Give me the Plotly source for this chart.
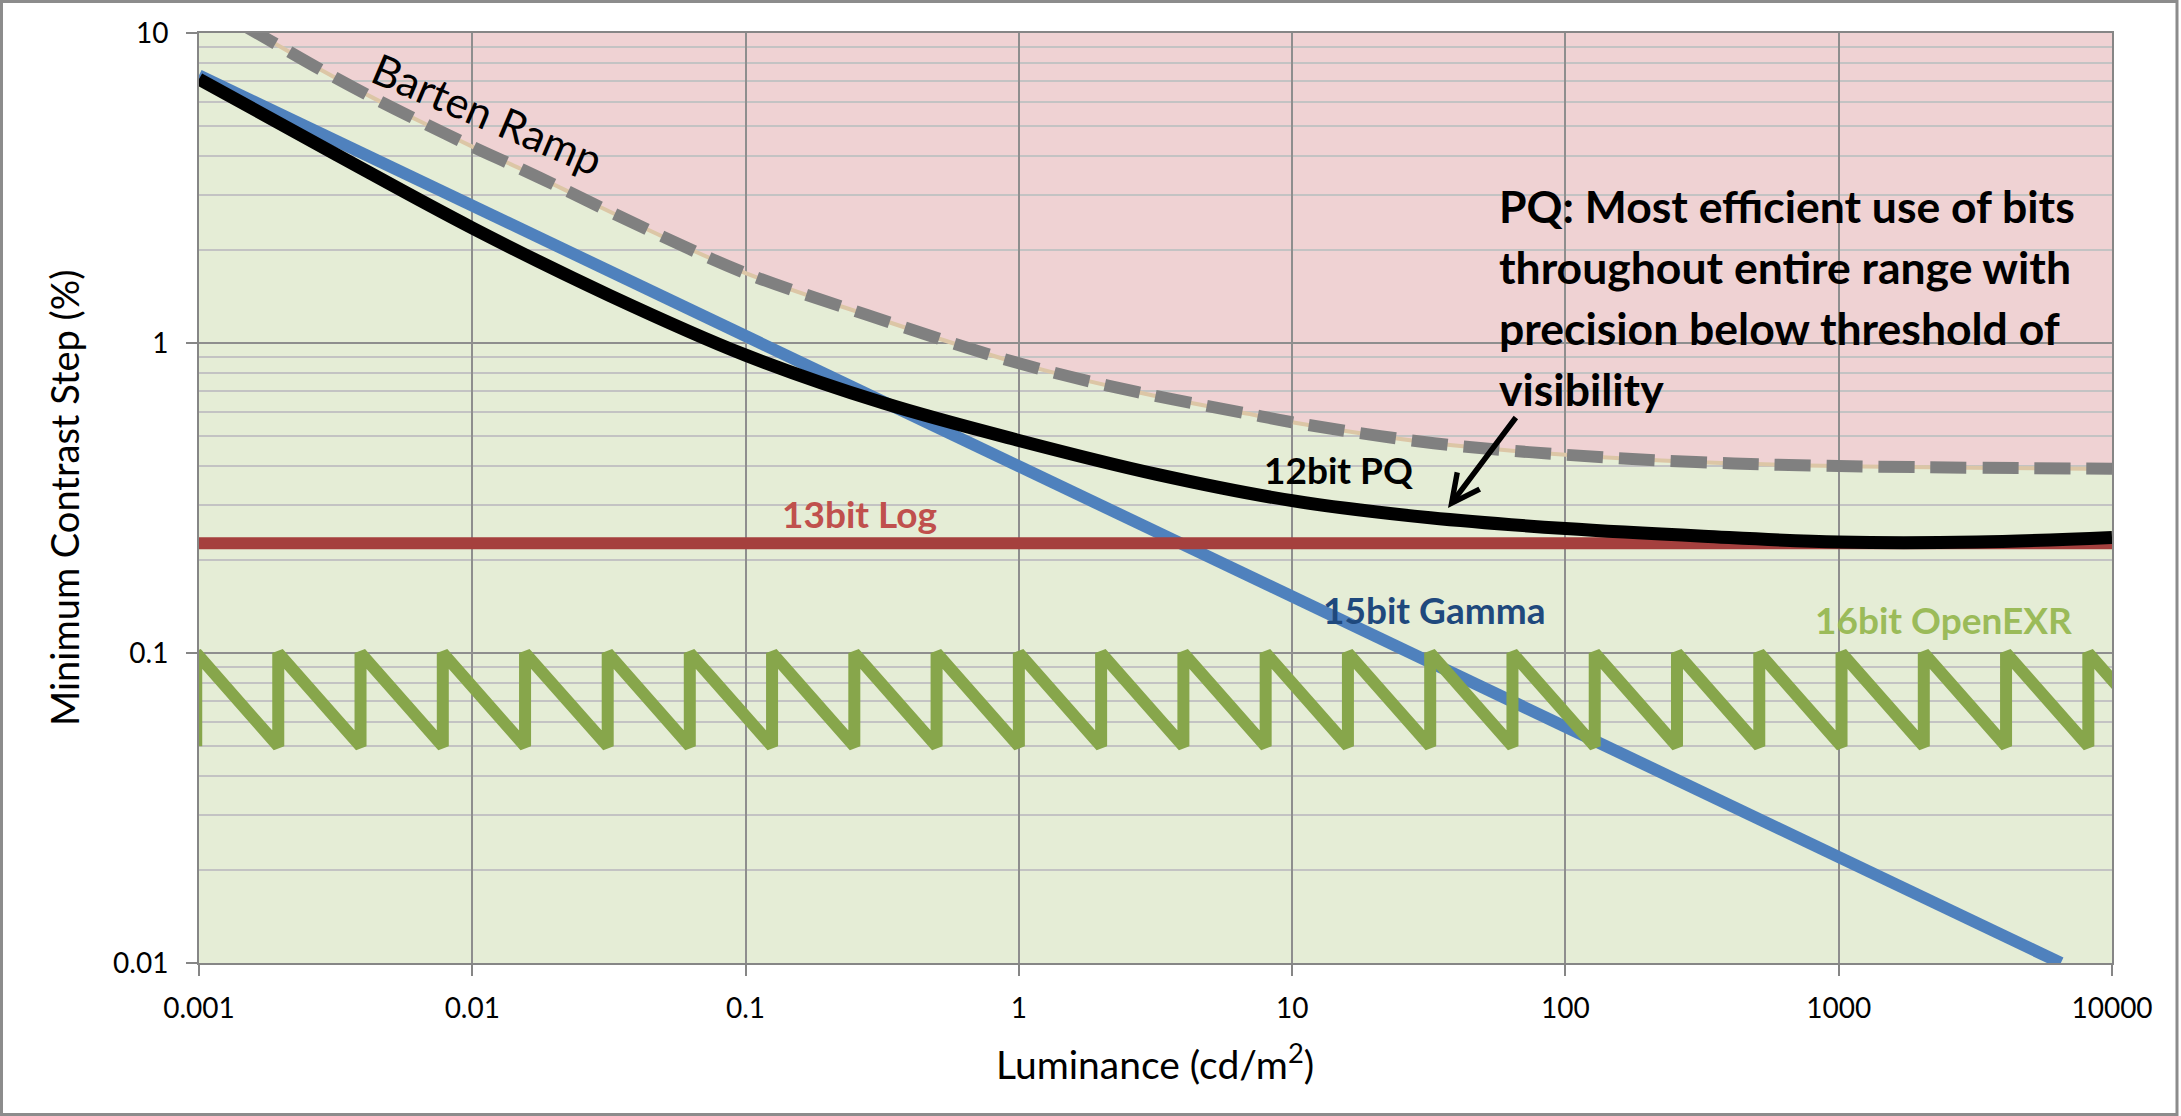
import plotly.graph_objects as go

# ---- data: luminance (cd/m^2) vs. minimum contrast step (%) ----
barten_lum = [0.001, 0.0018, 0.0028, 0.0043, 0.0064, 0.01, 0.015, 0.023, 0.03, 0.05,
              0.1, 0.28, 1, 2.7, 7, 10, 33, 100, 300, 1000, 10000]
barten_step = [12.8, 9.5, 7.6, 6.2, 5.2, 4.3, 3.65, 3.05, 2.72, 2.2,
               1.68, 1.23, 0.86, 0.695, 0.59, 0.555, 0.475, 0.436, 0.413, 0.401, 0.393]

pq_lum = [0.001, 0.0032, 0.01, 0.032, 0.1, 0.32, 1, 3.2, 10, 32, 100, 320, 1000, 3200, 10000]
pq_step = [7.1, 4.04, 2.35, 1.42, 0.914, 0.64, 0.485, 0.377, 0.31, 0.273, 0.252, 0.238,
           0.228, 0.228, 0.236]

gamma_lum = [0.001, 0.01, 0.1, 1, 10, 100, 1000, 6500]
gamma_step = [7.3, 2.77, 1.055, 0.40, 0.152, 0.058, 0.022, 0.01]

log_lum = [0.001, 10000]
log_step = [0.226, 0.226]

# half-float exponent boundaries: step jumps back up at each power of two
exr_breaks = [0.000977, 0.00195, 0.0039, 0.0078, 0.0156, 0.0313, 0.0625, 0.125, 0.25, 0.5,
              1, 2, 4, 8, 16, 32, 64, 128, 256, 512, 1024, 2048, 4096, 8192, 16384]
exr_high = 0.1
exr_low = 0.05

x_ticks = [0.001, 0.01, 0.1, 1, 10, 100, 1000, 10000]
x_ticktext = ["0.001", "0.01", "0.1", "1", "10", "100", "1000", "10000"]
y_ticks = [0.01, 0.1, 1, 10]
y_ticktext = ["0.01", "0.1", "1", "10"]
y_minor = [m * d for d in (0.01, 0.1, 1) for m in range(2, 10)]

# ---- figure geometry ----
W, H = 2181, 1116
L_M, R_M, T_M, B_M = 199, 69, 33, 153
PW, PH = W - L_M - R_M, H - T_M - B_M


def px(x):
    return (x - L_M) / PW


def py(y):
    return (H - B_M - y) / PH


FONT = "Lato"

# sawtooth for the OpenEXR curve
exr_x, exr_y = [], []
for b in exr_breaks:
    exr_x += [b, b]
    exr_y += [exr_low, exr_high]

fig = go.Figure()

# boundary of the visible region (thin tan edge under the dashed ramp)
fig.add_trace(go.Scatter(x=barten_lum, y=barten_step, mode="lines",
                         line=dict(color="#DCC6A6", width=4, shape="spline", smoothing=1.0),
                         hoverinfo="skip"))
fig.add_trace(go.Scatter(x=barten_lum, y=barten_step, mode="lines", name="Barten Ramp",
                         line=dict(color="#808080", width=12, dash="36px,16px",
                                   shape="spline", smoothing=1.0)))
fig.add_trace(go.Scatter(x=gamma_lum, y=gamma_step, mode="lines", name="15bit Gamma",
                         line=dict(color="#4F81BD", width=12)))
fig.add_trace(go.Scatter(x=exr_x, y=exr_y, mode="lines", name="16bit OpenEXR",
                         line=dict(color="#87A64B", width=12)))
fig.add_trace(go.Scatter(x=log_lum, y=log_step, mode="lines", name="13bit Log",
                         line=dict(color="#A5403E", width=12)))
fig.add_trace(go.Scatter(x=pq_lum, y=pq_step, mode="lines", name="12bit PQ",
                         line=dict(color="#000000", width=13, shape="spline", smoothing=1.0)))

# red region above the Barten ramp (below the gridlines)
path = "M " + " L ".join(f"{x},{y}" for x, y in zip(barten_lum, barten_step))
path += f" L {barten_lum[-1]},{barten_step[0]} L {barten_lum[0]},{barten_step[0]} Z"
fig.add_shape(type="path", path=path, xref="x", yref="y", layer="below",
              fillcolor="#EFD2D3", line=dict(width=0))

# outer frame
fig.add_shape(type="rect", xref="paper", yref="paper",
              x0=px(1.5), x1=px(2177), y0=py(1114.5), y1=py(1.5),
              line=dict(color="#8C8C8C", width=3), fillcolor="rgba(0,0,0,0)")

labels = [
    ("<b>12bit PQ</b>", 1338, 470, "#000000"),
    ("<b>13bit Log</b>", 859, 513, "#C0504D"),
    ("<b>15bit Gamma</b>", 1434, 610, "#1F497D"),
    ("<b>16bit OpenEXR</b>", 1943, 619, "#9BBB59"),
]
for txt, cx, cy, col in labels:
    fig.add_annotation(text=txt, x=px(cx), y=py(cy), xref="paper", yref="paper",
                       showarrow=False, xanchor="center", yanchor="middle",
                       font=dict(family=FONT, size=37, color=col))

fig.add_annotation(text="Barten Ramp", x=px(487), y=py(114), xref="paper", yref="paper",
                   showarrow=False, textangle=23, xanchor="center", yanchor="middle",
                   font=dict(family=FONT, size=43, color="#000000"))

note_lines = ["PQ: Most efficient use of bits", "throughout entire range with",
              "precision below threshold of", "visibility"]
for i, line in enumerate(note_lines):
    fig.add_annotation(text=f"<b>{line}</b>", x=px(1497), y=py(205.5 + 61 * i),
                       xref="paper", yref="paper", showarrow=False,
                       xanchor="left", yanchor="middle",
                       font=dict(family=FONT, size=44.5, color="#000000"))

# arrow pointing at the PQ curve
fig.add_annotation(x=px(1448), y=py(508), xref="paper", yref="paper", text="",
                   showarrow=True, arrowhead=5, arrowsize=1, arrowwidth=5.5,
                   arrowcolor="#000000", ax=69, ay=-92)

# axis titles
fig.add_annotation(text="Luminance (cd/m<sup>2</sup>)", x=px(1155), y=py(1061),
                   xref="paper", yref="paper", showarrow=False,
                   xanchor="center", yanchor="middle",
                   font=dict(family=FONT, size=39, color="#000000"))
fig.add_annotation(text="Minimum Contrast Step (%)", x=px(64), y=py(498),
                   xref="paper", yref="paper", showarrow=False, textangle=-90,
                   xanchor="center", yanchor="middle",
                   font=dict(family=FONT, size=38, color="#000000"))

axis_common = dict(showline=True, linecolor="#868686", linewidth=2, mirror=True,
                   ticks="outside", ticklen=11, tickwidth=2, tickcolor="#868686",
                   showgrid=True, gridcolor="#8E8E8E", gridwidth=1.5, zeroline=False,
                   tickfont=dict(family=FONT, size=28, color="#000000"))

fig.update_xaxes(type="log", range=[-3, 4], tickmode="array", tickvals=x_ticks,
                 ticktext=x_ticktext, ticklabelstandoff=8, **axis_common)
fig.update_yaxes(type="log", range=[-2, 1], tickmode="array", tickvals=y_ticks,
                 ticktext=y_ticktext, ticklabelstandoff=12,
                 minor=dict(tickmode="array", tickvals=y_minor, showgrid=True,
                            gridcolor="#C3C3C3", gridwidth=1.5, ticklen=0),
                 **axis_common)

fig.update_layout(width=W, height=H, margin=dict(l=L_M, r=R_M, t=T_M, b=B_M),
                  paper_bgcolor="#FFFFFF", plot_bgcolor="#E5EDD6", showlegend=False,
                  font=dict(family=FONT))

fig.write_html("out.html")
